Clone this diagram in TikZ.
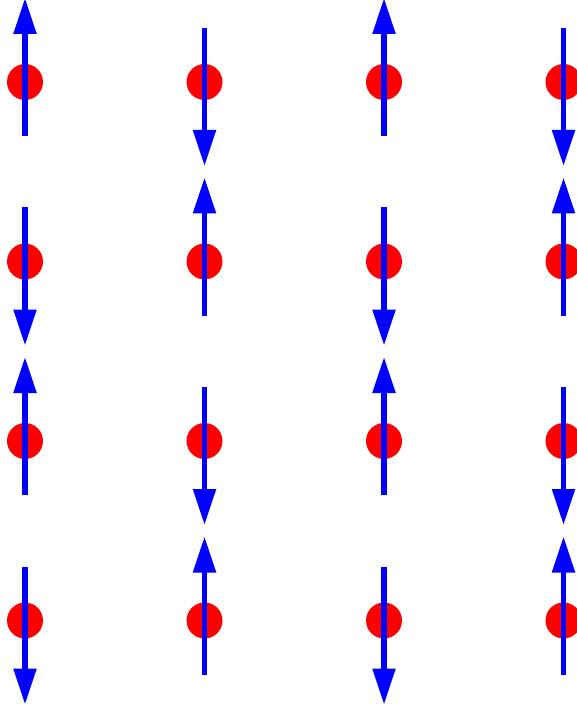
\documentclass[tikz,border=0pt]{standalone}
\usetikzlibrary{arrows.meta}

\tikzset{
  site/.style={circle, fill=red, minimum size=36pt, inner sep=0pt},
  spin/.style={blue, line width=5.5pt, -{Triangle[length=36pt,width=22pt]}}
}

\begin{document}
\begin{tikzpicture}[x=1pt,y=-1pt]
\useasboundingbox (0,0) rectangle (577,708);
\clip (0,0) rectangle (577,708);
% Draw the lattice sites
\foreach \i in {0,...,3}{
  \foreach \j in {0,...,3}{
    \node[site] (s\i\j) at (25+179.5*\i, 82+179.5*\j) {};
  }
}
% Spins, up and down in a checkerboard
\foreach \i in {0,...,3}{
  \foreach \j in {0,...,3}{
    \pgfmathsetmacro{\t}{mod(\i+\j,2)==0 ? -54 : 54}
    \pgfmathsetmacro{\h}{mod(\i+\j,2)==0 ? 84 : -84}
    \draw[spin] ([yshift=\t pt]s\i\j.center) -- ([yshift=\h pt]s\i\j.center);
  }
}
\end{tikzpicture}
\end{document}
